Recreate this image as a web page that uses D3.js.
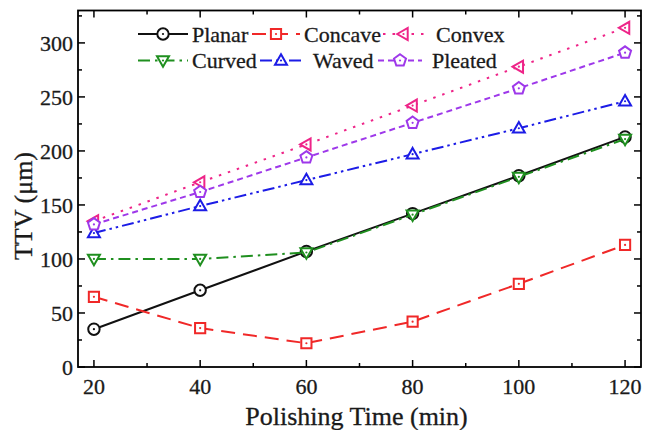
<!DOCTYPE html>
<html><head><meta charset="utf-8">
<script src="https://cdn.jsdelivr.net/npm/d3@7"></script>
<style>html,body{margin:0;padding:0;background:#fff} text{stroke:#1a1a1a;stroke-width:0.3px}</style>
</head><body><svg id="c" width="646" height="430"></svg>
<script>
const times = [20, 40, 60, 80, 100, 120];
const seriesNames = ["Planar", "Concave", "Convex", "Curved", "Waved", "Pleated"];
const planar  = [35, 71, 107, 142, 177, 213];
const concave = [65, 36, 22, 42, 77, 113];
const convex  = [135, 171, 206, 242, 278, 314];
const curved  = [100, 100, 106, 141, 176, 211];
const waved   = [124, 149, 173, 197, 221, 246];
const pleated = [132, 162, 194, 226, 258, 291];
const xTicks = [20, 40, 60, 80, 100, 120];
const yTicks = [0, 50, 100, 150, 200, 250, 300];

const styles = {
  Planar:  {color: "#111111", dash: null, sym: "circle"},
  Concave: {color: "#f02828", dash: "14,8", sym: "square"},
  Convex:  {color: "#ee2488", dash: "2.5,7", sym: "triLeft"},
  Curved:  {color: "#1f8f1f", dash: "12,5,2.5,5", sym: "triDown"},
  Waved:   {color: "#1c1ce6", dash: "12,4,2.5,4,2.5,4", sym: "triUp"},
  Pleated: {color: "#9e38ea", dash: "6,4", sym: "pentagon"}
};
const data = {Planar: planar, Concave: concave, Convex: convex, Curved: curved, Waved: waved, Pleated: pleated};

const svg = d3.select("#c");
const L = 78, R = 641, T = 10.5, B = 367;
const x = d3.scaleLinear().domain([17, 123]).range([L, R]);
const y = d3.scaleLinear().domain([0, 330]).range([B, T]);
const font = "'Liberation Serif', 'Times New Roman', serif";

function symPath(type, r) {
  let pts;
  if (type === "circle") { const p = d3.path(); p.arc(0, 0, r * 0.95, 0, 2 * Math.PI); p.closePath(); return p.toString(); }
  if (type === "square") { const h = r * 0.85; pts = [[-h,-h],[h,-h],[h,h],[-h,h]]; }
  if (type === "triUp") pts = [[0,-r*1.05],[r,r*0.7],[-r,r*0.7]];
  if (type === "triDown") pts = [[0,r*1.05],[r,-r*0.7],[-r,-r*0.7]];
  if (type === "triLeft") pts = [[-r*1.05,0],[r*0.7,-r],[r*0.7,r]];
  if (type === "pentagon") pts = d3.range(5).map(i => { const a = -Math.PI/2 + i*2*Math.PI/5; return [Math.cos(a)*r*1.05, Math.sin(a)*r*1.05]; });
  return "M" + pts.map(p => p.join(",")).join("L") + "Z";
}

function drawMarker(g, type, color, cx, cy) {
  const m = g.append("g").attr("transform", `translate(${cx},${cy})`);
  m.append("path").attr("d", symPath(type, 6)).attr("fill", "#fff").attr("stroke", color).attr("stroke-width", 2);
  m.append("circle").attr("r", 1.1).attr("fill", color);
}

svg.append("rect").attr("x", L).attr("y", T).attr("width", R - L).attr("height", B - T)
  .attr("fill", "none").attr("stroke", "#000").attr("stroke-width", 1.8);

const tickG = svg.append("g").attr("stroke", "#000").attr("stroke-width", 1.5);
const xMinor = d3.range(30, 121, 20);
const yMinor = d3.range(25, 330, 50);
xTicks.forEach(v => { tickG.append("line").attr("x1", x(v)).attr("x2", x(v)).attr("y1", B).attr("y2", B - 7);
  tickG.append("line").attr("x1", x(v)).attr("x2", x(v)).attr("y1", T).attr("y2", T + 7); });
xMinor.forEach(v => { tickG.append("line").attr("x1", x(v)).attr("x2", x(v)).attr("y1", B).attr("y2", B - 4);
  tickG.append("line").attr("x1", x(v)).attr("x2", x(v)).attr("y1", T).attr("y2", T + 4); });
yTicks.forEach(v => { tickG.append("line").attr("y1", y(v)).attr("y2", y(v)).attr("x1", L).attr("x2", L + 7);
  tickG.append("line").attr("y1", y(v)).attr("y2", y(v)).attr("x1", R).attr("x2", R - 7); });
yMinor.forEach(v => { tickG.append("line").attr("y1", y(v)).attr("y2", y(v)).attr("x1", L).attr("x2", L + 4);
  tickG.append("line").attr("y1", y(v)).attr("y2", y(v)).attr("x1", R).attr("x2", R - 4); });

svg.append("g").selectAll("text").data(xTicks).join("text")
  .attr("x", d => x(d)).attr("y", 394).attr("text-anchor", "middle")
  .attr("font-family", font).attr("font-size", 22).attr("fill", "#1a1a1a").text(d => d);
svg.append("g").selectAll("text").data(yTicks).join("text")
  .attr("x", 73).attr("y", d => y(d)).attr("dy", "0.35em").attr("text-anchor", "end")
  .attr("font-family", font).attr("font-size", 22).attr("fill", "#1a1a1a").text(d => d);

svg.append("text").attr("x", (L + R) / 2 - 3).attr("y", 425).attr("text-anchor", "middle")
  .attr("font-family", font).attr("font-size", 26).attr("fill", "#1a1a1a").text("Polishing Time (min)");
svg.append("text").attr("transform", `translate(32,${206}) rotate(-90)`).attr("text-anchor", "middle")
  .attr("font-family", font).attr("font-size", 26).attr("fill", "#1a1a1a").text("TTV (μm)");

const line = d3.line().x((d, i) => x(times[i])).y(d => y(d));
seriesNames.forEach(name => {
  const st = styles[name];
  const g = svg.append("g");
  g.append("path").attr("d", line(data[name])).attr("fill", "none").attr("stroke", st.color)
    .attr("stroke-width", 2).attr("stroke-dasharray", st.dash);
  data[name].forEach((v, i) => drawMarker(g, st.sym, st.color, x(times[i]), y(v)));
});

const legendPos = [
  {name: "Planar",  x1: 138, x2: 188, ty: 34, tx: 192},
  {name: "Concave", x1: 252, x2: 300, ty: 34, tx: 304},
  {name: "Convex",  x1: 383, x2: 424, ty: 34, tx: 436},
  {name: "Curved",  x1: 138, x2: 188, ty: 60.5, tx: 192},
  {name: "Waved",   x1: 260, x2: 302, ty: 60.5, tx: 313},
  {name: "Pleated", x1: 378, x2: 422, ty: 60.5, tx: 432}
];
legendPos.forEach(lp => {
  const st = styles[lp.name];
  const g = svg.append("g");
  g.append("line").attr("x1", lp.x1).attr("x2", lp.x2).attr("y1", lp.ty).attr("y2", lp.ty)
    .attr("stroke", st.color).attr("stroke-width", 2).attr("stroke-dasharray", st.dash);
  drawMarker(g, st.sym, st.color, (lp.x1 + lp.x2) / 2, lp.ty);
  g.append("text").attr("x", lp.tx).attr("y", lp.ty).attr("dy", "0.35em")
    .attr("font-family", font).attr("font-size", 22).attr("fill", "#1a1a1a").text(lp.name);
});
</script></body></html>
